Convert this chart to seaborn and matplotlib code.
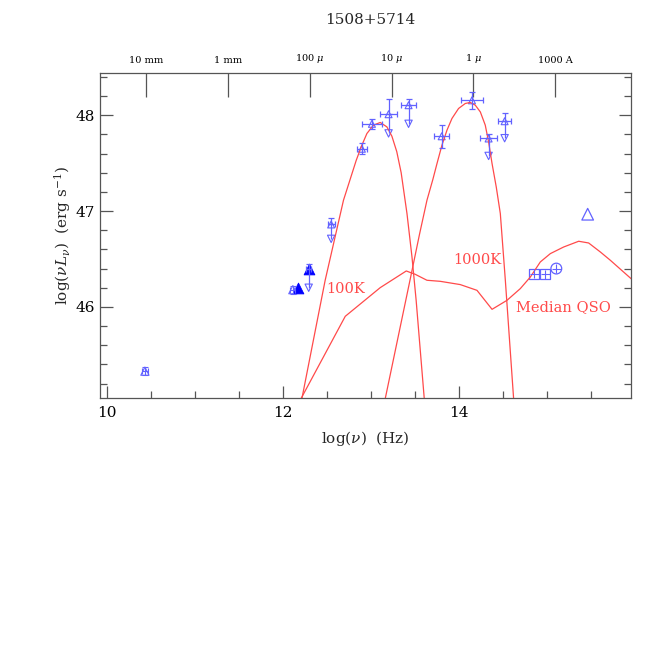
import numpy as np
import pandas as pd
import matplotlib
matplotlib.use("Agg")
import matplotlib.pyplot as plt
import seaborn as sns

# --- model curves ---
bb100_x = [12.16, 12.2125, 12.477, 12.685, 12.830, 12.894, 12.951, 13.026, 13.102,
           13.178, 13.235, 13.29, 13.34, 13.406, 13.463, 13.51, 13.602, 13.62]
bb100_y = [44.80, 45.043, 46.278, 47.113, 47.530, 47.687, 47.809, 47.896, 47.924,
           47.878, 47.78, 47.62, 47.40, 46.974, 46.52, 46.07, 45.046, 44.80]

bb1000_x = [13.10, 13.159, 13.44, 13.55, 13.633, 13.70, 13.747, 13.803, 13.860, 13.917,
            13.992, 14.068, 14.125, 14.182, 14.239, 14.295, 14.333, 14.372, 14.42,
            14.466, 14.523, 14.617, 14.64]
bb1000_y = [44.80, 45.043, 46.278, 46.765, 47.113, 47.33, 47.496, 47.687, 47.843, 47.966,
            48.070, 48.122, 48.133, 48.104, 48.034, 47.896, 47.721, 47.496, 47.25,
            46.974, 46.278, 45.043, 44.80]

qso_x = [12.17, 12.2125, 12.705, 13.102, 13.398, 13.50, 13.633, 13.784, 14.011, 14.201,
         14.372, 14.542, 14.693, 14.807, 14.920, 15.034, 15.185, 15.356, 15.469, 15.602,
         15.716, 15.963]
qso_y = [44.99, 45.06, 45.902, 46.201, 46.375, 46.34, 46.278, 46.267, 46.233, 46.173,
         45.975, 46.069, 46.191, 46.312, 46.469, 46.556, 46.625, 46.685, 46.667, 46.573,
         46.486, 46.285]

# --- photometry ---
det_x = [12.894, 13.008, 13.80, 14.144]
det_y = [47.65, 47.91, 47.78, 48.155]
det_xerr = [0.06, 0.11, 0.085, 0.13]
det_yerr = [0.06, 0.05, 0.12, 0.09]

lim_x = [12.545, 13.197, 13.424, 14.333, 14.515, 12.29]
lim_y = [46.86, 48.01, 48.104, 47.757, 47.937, 46.40]
lim_tip = [46.71, 47.81, 47.91, 47.575, 47.76, 46.20]
lim_xerr = [0.04, 0.095, 0.09, 0.095, 0.07, 0.03]
lim_yup = [0.07, 0.16, 0.06, 0.05, 0.09, 0.05]

small_x = [10.43, 12.11]
small_y = [45.33, 46.18]
small_yerr = [0.04, 0.04]

filled_x = [12.165, 12.29]
filled_y = [46.20, 46.40]

box_x = [14.852, 14.977]
box_y = [46.347, 46.34]
circ_x = [15.102]
circ_y = [46.40]
uvtri_x = [15.458]
uvtri_y = [46.967]

wl_pos = [10.44, 11.37, 12.30, 13.235, 14.16, 15.09]
wl_lab = ["10 mm", "1 mm", "100 $\\mu$", "10 $\\mu$", "1 $\\mu$", "1000 A"]

sns.set_style("ticks")
plt.rcParams["font.family"] = ["DejaVu Serif"]
plt.rcParams["mathtext.fontset"] = "dejavuserif"

red = "#ff4a4a"
blue = "#6262ff"
grey = "#555555"

fig = plt.figure(figsize=(6.64, 6.64), dpi=100)
ax = fig.add_axes([100 / 664, 1 - 398 / 664, 531 / 664, 325 / 664])

for cx, cy in [(bb100_x, bb100_y), (bb1000_x, bb1000_y), (qso_x, qso_y)]:
    sns.lineplot(x=cx, y=cy, sort=False, estimator=None, color=red, lw=0.9, ax=ax)

# detections
ax.errorbar(det_x, det_y, xerr=det_xerr, yerr=det_yerr, fmt="none", ecolor=blue,
            elinewidth=0.9, capsize=2.5, capthick=0.9)
sns.scatterplot(x=det_x, y=det_y, marker="^", s=25, facecolor="none",
                edgecolor=blue, linewidth=0.8, ax=ax)

# upper limits
ax.errorbar(lim_x, lim_y, xerr=lim_xerr, yerr=[[0] * len(lim_y), lim_yup], fmt="none",
            ecolor=blue, elinewidth=0.9, capsize=2.5, capthick=0.9)
ax.vlines(lim_x, lim_tip, lim_y, color=blue, lw=0.9)
sns.scatterplot(x=lim_x, y=lim_tip, marker="v", s=28, facecolor="none",
                edgecolor=blue, linewidth=0.8, ax=ax)
sns.scatterplot(x=lim_x[:-1], y=lim_y[:-1], marker="^", s=25, facecolor="none",
                edgecolor=blue, linewidth=0.8, ax=ax)

# radio / submm points
ax.errorbar(small_x, small_y, yerr=small_yerr, xerr=0.03, fmt="none", ecolor=blue,
            elinewidth=0.8, capsize=2, capthick=0.8)
sns.scatterplot(x=small_x, y=small_y, marker="^", s=35, facecolor="none",
                edgecolor=blue, linewidth=0.8, ax=ax)
sns.scatterplot(x=filled_x, y=filled_y, marker="^", s=60, color="#0000ff",
                edgecolor="#0000ff", ax=ax)

# optical / UV
ax.errorbar(box_x + circ_x, box_y + circ_y, xerr=0.05, yerr=0.045, fmt="none",
            ecolor=blue, elinewidth=0.8, capsize=0)
sns.scatterplot(x=box_x, y=box_y, marker="s", s=55, facecolor="none",
                edgecolor=blue, linewidth=0.9, ax=ax)
sns.scatterplot(x=circ_x, y=circ_y, marker="o", s=60, facecolor="none",
                edgecolor=blue, linewidth=0.9, ax=ax)
sns.scatterplot(x=uvtri_x, y=uvtri_y, marker="^", s=70, facecolor="none",
                edgecolor=blue, linewidth=0.9, ax=ax)

ax.text(12.705, 46.19, "100K", color=red, fontsize=10.5, ha="center", va="center")
ax.text(14.20, 46.494, "1000K", color=red, fontsize=10.5, ha="center", va="center")
ax.text(15.185, 46.0, "Median QSO", color=red, fontsize=10.5, ha="center", va="center")

ax.set_xlim(9.92, 15.95)
ax.set_ylim(45.05, 48.44)
ax.set_xticks([10, 12, 14])
ax.set_xticks(np.arange(10, 16, 0.5), minor=True)
ax.set_yticks([46, 47, 48])
ax.set_yticks(np.arange(45.2, 48.41, 0.2), minor=True)
ax.tick_params(axis="both", which="both", direction="in", colors=grey,
               labelcolor="black", labelsize=11, width=0.9)
ax.tick_params(axis="both", which="major", length=9)
ax.tick_params(axis="both", which="minor", length=5)
ax.tick_params(axis="y", which="both", right=True)
ax.tick_params(axis="x", which="both", top=False)
ax.tick_params(axis="x", pad=6)
for sp in ax.spines.values():
    sp.set_color(grey)
    sp.set_linewidth(0.9)

top = ax.secondary_xaxis("top")
top.set_xticks(wl_pos)
top.set_xticklabels(wl_lab, fontsize=7)
top.tick_params(direction="in", length=17, colors=grey, labelcolor="black", width=0.9, pad=6)
top.spines["top"].set_visible(False)

ax.set_xlabel("$\\log(\\nu)$  (Hz)", fontsize=11, labelpad=6)
ax.set_ylabel("$\\log(\\nu L_\\nu)$  (erg s$^{-1}$)", fontsize=11, labelpad=2)
fig.text(0.557, 0.970, "1508+5714", ha="center", va="center", fontsize=11)

fig.savefig("out.png", dpi=100)
